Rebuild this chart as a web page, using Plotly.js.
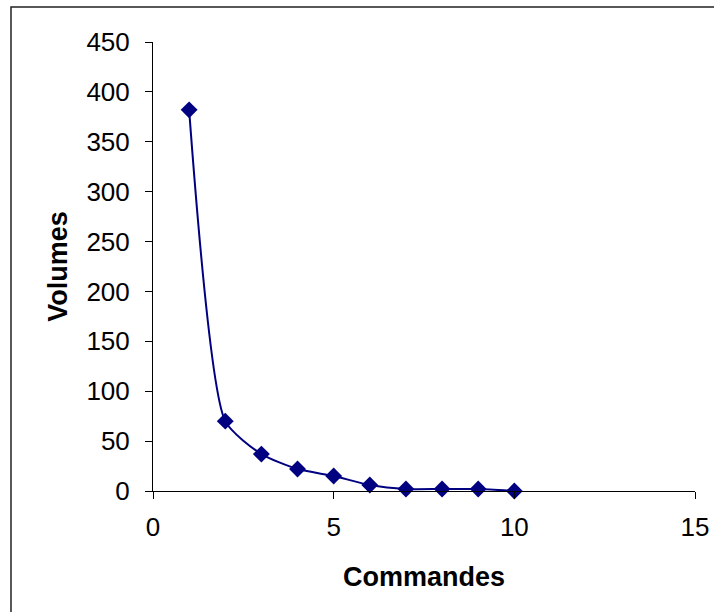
<!DOCTYPE html>
<html>
<head>
<meta charset="utf-8">
<script src="https://cdn.plot.ly/plotly-3.0.1.min.js"></script>
<style>
html,body{margin:0;padding:0;background:#fff;}
#chart{width:714px;height:612px;}
</style>
</head>
<body>
<div id="chart"></div>
<script>
const commandes = [1, 2, 3, 4, 5, 6, 7, 8, 9, 10];
const volumes = [382, 70, 37, 22, 15, 6, 2, 2, 2, 0];
const xTicks = [0, 5, 10, 15];
const yTicks = [0, 50, 100, 150, 200, 250, 300, 350, 400, 450];

const trace = {
  x: commandes,
  y: volumes,
  type: 'scatter',
  mode: 'lines+markers',
  line: {color: '#000080', width: 2, shape: 'spline', smoothing: 0.6},
  marker: {symbol: 'diamond', size: 13, color: '#000080'},
  cliponaxis: false,
  showlegend: false
};

const layout = {
  width: 714,
  height: 612,
  margin: {l: 153, r: 19, t: 42, b: 121},
  paper_bgcolor: '#ffffff',
  plot_bgcolor: 'rgba(0,0,0,0)',
  font: {family: 'Liberation Sans, Arial, sans-serif', color: '#000', size: 26},
  xaxis: {
    range: [0, 15],
    tickvals: xTicks,
    ticktext: xTicks.map(String),
    showgrid: false,
    zeroline: false,
    showline: true,
    linecolor: '#000',
    linewidth: 1,
    ticks: 'outside',
    ticklen: 7,
    tickcolor: '#000',
    ticklabelstandoff: 6,
    tickfont: {size: 26},
    automargin: false,
    title: {text: '<b>Commandes</b>', font: {size: 27}, standoff: 25}
  },
  yaxis: {
    range: [0, 450],
    tickvals: yTicks,
    ticktext: yTicks.map(String),
    showgrid: false,
    zeroline: false,
    showline: true,
    linecolor: '#000',
    linewidth: 1,
    ticks: 'outside',
    ticklen: 7,
    tickcolor: '#000',
    ticklabelstandoff: 10,
    tickfont: {size: 26},
    automargin: false,
    title: {text: '<b>Volumes</b>', font: {size: 27}, standoff: 10}
  },
  shapes: [{
    type: 'rect', xref: 'paper', yref: 'paper',
    x0: -0.262, x1: 1.3, y0: -0.5, y1: 1.078,
    line: {color: '#222', width: 1.5}, fillcolor: 'rgba(0,0,0,0)', layer: 'below'
  }]
};

Plotly.newPlot('chart', [trace], layout, {displayModeBar: false, staticPlot: true});
</script>
</body>
</html>
